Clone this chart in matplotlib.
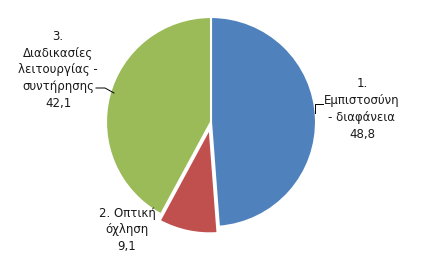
import matplotlib
matplotlib.use('Agg')
import matplotlib.pyplot as plt

# Τιμές του γραφήματος
labels = ['1.\nΕμπιστοσύνη\n- διαφάνεια', '2. Οπτική\nόχληση', '3.\nΔιαδικασίες\nλειτουργίας -\nσυντήρησης']
values = [48.8, 9.1, 42.1]
value_text = ['48,8', '9,1', '42,1']
colors = ['#4f81bd', '#c0504d', '#9bbb59']
explode = [0, 6.5, 0]  # σε pixel (μονάδες δεδομένων)

W, H = 436, 258
fig = plt.figure(figsize=(W / 100, H / 100), dpi=100)
ax = fig.add_axes([0, 0, 1, 1])

cx, cy, r = 211, 136, 105
ax.pie(values, colors=colors, explode=explode, startangle=90, counterclock=False,
       center=(cx, cy), radius=r, frame=True,
       wedgeprops=dict(edgecolor='white', linewidth=1.5))
ax.set_xlim(0, W)
ax.set_ylim(0, H)
ax.set_aspect('equal')
ax.axis('off')

# Ετικέτες
pos = [(362, 149), (127, 28), (58, 188)]
for lab, v, (x, y) in zip(labels, value_text, pos):
    ax.text(x, y, lab + '\n' + v, ha='center', va='center', fontsize=8.5,
            color='#1a1a1a', linespacing=1.38)

# Γραμμές οδηγοί
ax.plot([315, 315, 323], [145, 154, 154], color='black', lw=0.7)
ax.plot([96, 105, 114], [170, 170, 165], color='black', lw=0.7)

fig.savefig('out.png', dpi=100, facecolor='white')
